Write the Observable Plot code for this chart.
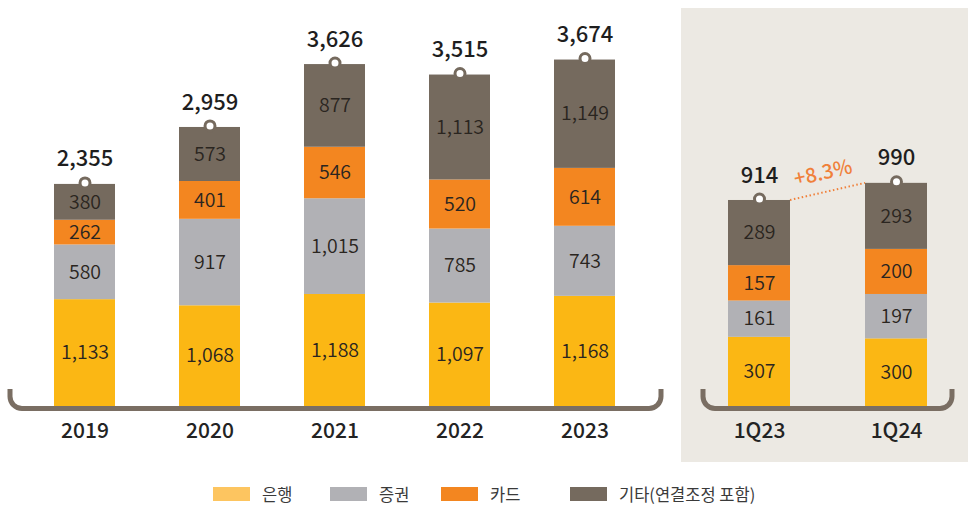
<!DOCTYPE html>
<html><head><meta charset="utf-8">
<script src="https://cdn.jsdelivr.net/npm/d3@7"></script>
<script src="https://cdn.jsdelivr.net/npm/@observablehq/plot@0.6"></script>
<style>
html,body{margin:0;padding:0;background:#fff;}
#wrap{position:relative;width:968px;height:505px;overflow:hidden;font-family:"Noto Sans CJK KR","Noto Sans",sans-serif;}
#left{position:absolute;left:0;top:0;}
#right{position:absolute;left:681px;top:8px;background:#ECE9E3;}
#legend{position:absolute;top:485px;left:0;width:968px;height:20px;font-size:16.5px;color:#3a3a3a;}
#legend .it{position:absolute;top:0;display:flex;align-items:center;height:18px;}
#legend .sw{width:37px;height:14px;margin-right:12px;}
</style></head>
<body><div id="wrap"><div id="left"></div><div id="right"></div><div id="legend"></div></div>
<script>
// ---- data ----
const series = ["은행", "증권", "카드", "기타(연결조정 포함)"];
const colors = ["#FBB714", "#B1B1B5", "#F38620", "#756A5E"];
const legendColors = ["#FDC560", "#B1B1B5", "#F38620", "#756A5E"];

const years = ["2019", "2020", "2021", "2022", "2023"];
const bank   = [1133, 1068, 1188, 1097, 1168];
const sec    = [580, 917, 1015, 785, 743];
const card   = [262, 401, 546, 520, 614];
const other  = [380, 573, 877, 1113, 1149];
const yearTotals = [2355, 2959, 3626, 3515, 3674];

const quarters = ["1Q23", "1Q24"];
const qBank  = [307, 300];
const qSec   = [161, 197];
const qCard  = [157, 200];
const qOther = [289, 293];
const qTotals = [914, 990];
const growthLabel = "+8.3%";

// ---- build tables ----
function rows(cats, arrs){
  const out = [];
  cats.forEach((c,i)=>arrs.forEach((a,j)=>out.push({cat:c, series:series[j], value:a[i]})));
  return out;
}
const yearRows = rows(years, [bank, sec, card, other]);
const qRows = rows(quarters, [qBank, qSec, qCard, qOther]);
const yearTot = years.map((c,i)=>({cat:c, total:yearTotals[i]}));
const qTot = quarters.map((c,i)=>({cat:c, total:qTotals[i]}));

const FONT = '"Noto Sans CJK KR","Noto Sans",sans-serif';
const BROWN = "#756A5E";
const BRACKET = "#7A6E63";

function bracketMark(extL, extR){
  return (index, scales) => {
    const x = scales.x, y = scales.y;
    const dom = x.domain();
    const x0 = x(dom[0]) - extL;
    const x1 = x(dom[dom.length-1]) + x.bandwidth() + extR;
    const yb = y(0) + 2.5;
    const yt = yb - 19.5;
    const r = 12;
    const g = d3.create("svg:g");
    g.append("path")
      .attr("d", `M${x0},${yt} V${yb-r} A${r},${r} 0 0 0 ${x0+r},${yb} H${x1-r} A${r},${r} 0 0 0 ${x1},${yb-r} V${yt}`)
      .attr("fill","none").attr("stroke",BRACKET).attr("stroke-width",5);
    return g.node();
  };
}

function chart(data, totals, cats, opt){
  return Plot.plot({
    width: opt.width, height: opt.height,
    margin: 0,
    style: {background: "transparent", fontFamily: FONT, overflow: "visible"},
    x: {domain: cats, range: opt.xRange, paddingInner: opt.pi, paddingOuter: opt.po, axis: null},
    y: {domain: opt.yDomain, range: opt.yRange, axis: null},
    color: {domain: series, range: colors},
    marks: [
      bracketMark(opt.extL, opt.extR),
      Plot.barY(data, {x:"cat", y:"value", z:"series", fill:"series", order: series}),
      Plot.text(data, Plot.stackY({x:"cat", y:"value", z:"series", order: series,
        text: d=>d3.format(",")(d.value), fontSize:19.5, fontWeight:350, fill:"#2a2520"})),
      Plot.dot(totals, {x:"cat", y:"total", r:5, fill:"#fff", stroke:BROWN, strokeWidth:3, dy:-1.5}),
      Plot.text(totals, {x:"cat", y:"total", text:d=>d3.format(",")(d.total), dy:-25, fontSize:22, fontWeight:500, fill:"#1e1e1e"}),
      Plot.text(cats, {x:d=>d, y:()=>0, text:d=>d, dy:25, fontSize:21, fontWeight:500, fill:"#232323"}),
      ...(opt.extra || [])
    ]
  });
}

const left = chart(yearRows, yearTot, years, {
  width: 680, height: 460,
  xRange: [29, 640], pi: 0.512, po: 0.2,
  yDomain: [0, 4000], yRange: [406, 406 - 0.0943*4000],
  extL: 44, extR: 46
});
document.getElementById("left").appendChild(left);

function growthMark(){
  return (index, scales) => {
    const x = scales.x, y = scales.y;
    const xa = x(quarters[0]) + x.bandwidth(), ya = y(qTotals[0]);
    const xb = x(quarters[1]), yb = y(qTotals[1]);
    const g = d3.create("svg:g");
    g.append("line").attr("x1",xa).attr("y1",ya).attr("x2",xb).attr("y2",yb)
      .attr("stroke","#F0803A").attr("stroke-width",2).attr("stroke-dasharray","1.5 2.5");
    const ang = Math.atan2(yb-ya, xb-xa)*180/Math.PI;
    const mx = (xa+xb)/2 - 3, my = (ya+yb)/2 - 12;
    g.append("text").attr("transform",`translate(${mx},${my}) rotate(${ang})`)
      .attr("text-anchor","middle").attr("font-size",20).attr("font-weight",500).attr("fill","#F0803A")
      .attr("font-family",FONT).text(growthLabel);
    return g.node();
  };
}

const right = chart(qRows, qTot, quarters, {
  width: 287, height: 454,
  xRange: [5.9, 287.2], pi: 0.547, po: 0.3,
  yDomain: [0, 1200], yRange: [398, 398 - 0.2254*1200],
  extL: 25, extR: 25,
  extra: [growthMark()]
});
document.getElementById("right").appendChild(right);

// legend
const legendLeft = [213, 330, 441, 570];
const lg = document.getElementById("legend");
series.forEach((s,i)=>{
  const it = document.createElement("div");
  it.className = "it"; it.style.left = legendLeft[i] + "px";
  it.innerHTML = `<span class="sw" style="background:${legendColors[i]}"></span><span>${s}</span>`;
  lg.appendChild(it);
});
</script>
</body></html>
